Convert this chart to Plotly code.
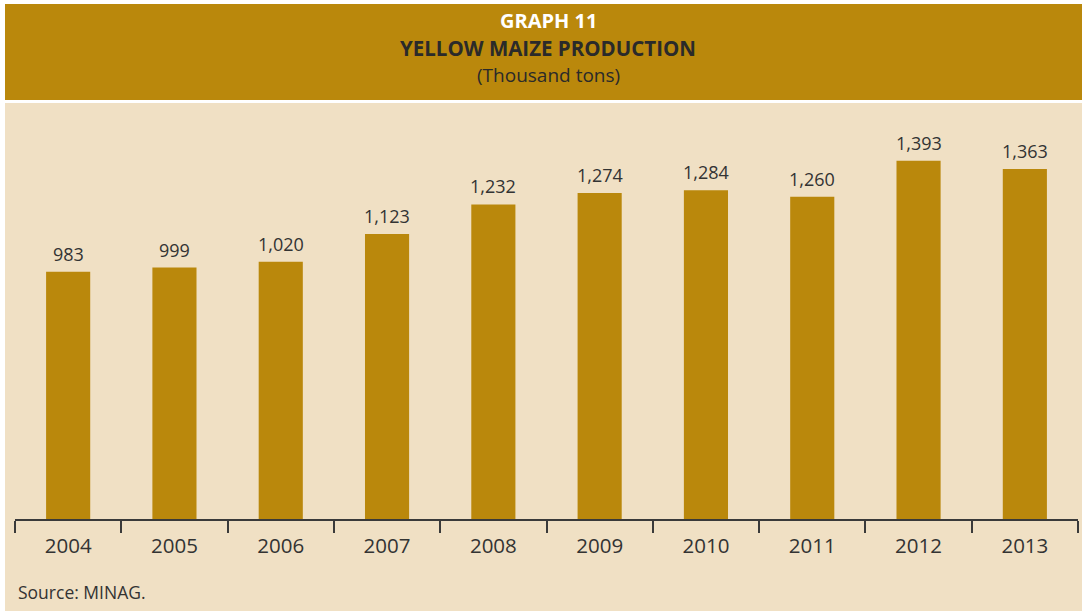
import plotly.graph_objects as go

years = ["2004", "2005", "2006", "2007", "2008", "2009", "2010", "2011", "2012", "2013"]
production = [983, 999, 1020, 1123, 1232, 1274, 1284, 1260, 1393, 1363]
labels = ["983", "999", "1,020", "1,123", "1,232", "1,274", "1,284", "1,260", "1,393", "1,363"]

GOLD = "#BA880C"
BEIGE = "#F0E0C4"
DARK = "#333333"
FONT = "Open Sans"

W, H = 1082, 611
L, R, T, B = 15, 4, 110, 92
PW = W - L - R
PH = H - T - B

def px(x):
    return (x - L) / PW

def py(y):
    return (H - B - y) / PH

fig = go.Figure()
fig.add_trace(go.Bar(
    x=years, y=production, marker_color=GOLD, marker_line_width=0,
    width=0.415, hoverinfo="skip",
))

for i, (v, lab) in enumerate(zip(production, labels)):
    fig.add_annotation(x=i, y=v, text=lab, showarrow=False, yanchor="bottom",
                       yshift=4, font=dict(family=FONT, size=18, color=DARK))

shapes = [
    dict(type="rect", xref="paper", yref="paper", x0=px(5), x1=px(1082), y0=py(611), y1=py(103),
         fillcolor=BEIGE, line_width=0, layer="below"),
    dict(type="rect", xref="paper", yref="paper", x0=px(5), x1=px(1082), y0=py(100), y1=py(4),
         fillcolor=GOLD, line_width=0, layer="below"),
]

cx = px(548)
fig.add_annotation(xref="paper", yref="paper", x=cx, y=py(20), text="<b>GRAPH 11</b>", showarrow=False,
                   font=dict(family=FONT, size=20, color="white"), xanchor="center", yanchor="middle")
fig.add_annotation(xref="paper", yref="paper", x=cx, y=py(48), text="<b>YELLOW MAIZE PRODUCTION</b>", showarrow=False,
                   font=dict(family=FONT, size=20.5, color="#2a2a2a"), xanchor="center", yanchor="middle")
fig.add_annotation(xref="paper", yref="paper", x=cx, y=py(75), text="(Thousand tons)", showarrow=False,
                   font=dict(family=FONT, size=19, color="#2a2a2a"), xanchor="center", yanchor="middle")
fig.add_annotation(xref="paper", yref="paper", x=px(16), y=py(592), text="Source: MINAG.", showarrow=False,
                   font=dict(family=FONT, size=17.5, color=DARK), xanchor="left", yanchor="middle")

fig.update_layout(
    width=W, height=H,
    margin=dict(l=L, r=R, t=T, b=B, pad=0, autoexpand=False),
    paper_bgcolor="white",
    plot_bgcolor=BEIGE,
    shapes=shapes,
    showlegend=False,
    bargap=0.585,
    font=dict(family=FONT, color=DARK),
    xaxis=dict(
        type="category", range=[-0.5, 9.5], automargin=False,
        showline=True, linecolor="#3a3a3a", linewidth=1.5,
        ticks="outside", tickson="boundaries", ticklen=12, tickwidth=1.5, tickcolor="#3a3a3a",
        tickfont=dict(family=FONT, size=20.5, color=DARK), tickangle=0, ticklabelstandoff=8,
        showgrid=False, zeroline=False, fixedrange=True,
    ),
    yaxis=dict(
        range=[70, 70 + PH / 0.2707], visible=False, showgrid=False, zeroline=False, fixedrange=True,
    ),
)

fig.write_html("out.html")
